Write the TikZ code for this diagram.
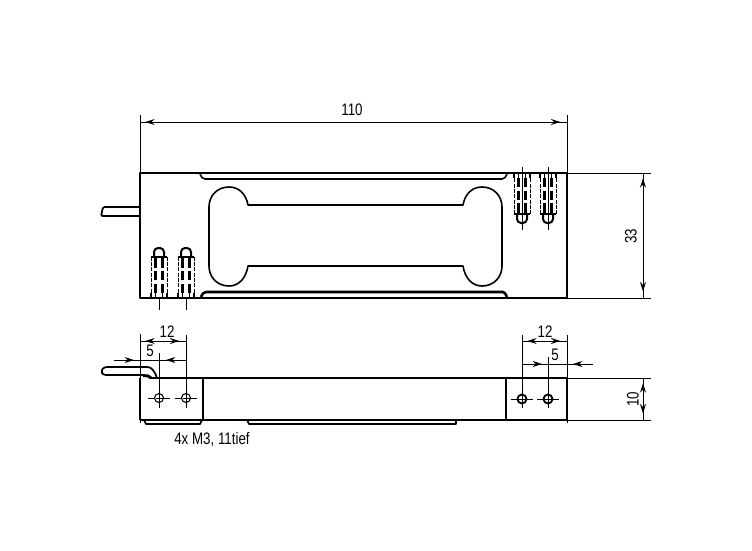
\documentclass[tikz,border=0pt]{standalone}
\usepackage{fontspec}
\setmainfont[FakeStretch=0.8]{Liberation Sans}
\usetikzlibrary{arrows.meta,decorations.markings}

\tikzset{
	body/.style={line width=1.9pt,line join=round},
	edge/.style={line width=1.2pt,line join=round},
	thin line/.style={line width=.55pt},
	dimin/.style={line width=.75pt,postaction={decorate},
		decoration={markings,
			mark=at position 11pt with {\arrow{Stealth[length=7pt,width=4.5pt,reversed]}},
			mark=at position -5pt with {\arrow{Stealth[length=7pt,width=4.5pt]}}}},
	dimout/.style={line width=.75pt,postaction={decorate},
		decoration={markings,
			mark=at position #1 with {\arrow{Stealth[length=7pt,width=4.5pt]}}}},
	dimlabel/.style={font=\fontsize{12.5}{14}\selectfont,inner sep=0pt},
	dash body/.style={line width=.6pt,dash pattern=on 3pt off 1pt},
	dash core/.style={line width=1.6pt,dash pattern=on 7pt off 2.5pt}
}

\newcommand{\threadstud}{
	\draw[dash body] (-8,0) -- (-8,-41) (8,0) -- (8,-41);
	\draw[dash core] (-3.5,-5) -- (-3.5,-41) (3.5,-5) -- (3.5,-41);
	\draw[edge] (-8,-41) -- (8,-41);
	\draw[edge,line width=1.5pt,rounded corners=3pt] (-5,-41) -- (-5,-50) -- (5,-50) -- (5,-41);
	\draw[line width=1.4pt] (-8,0) -- (-8,-5) (-3.5,0) -- (-3.5,-5) (3.5,0) -- (3.5,-5) (8,0) -- (8,-5);
}

\begin{document}
\begin{tikzpicture}[x=.75pt,y=-.75pt]
	\useasboundingbox (0,0) rectangle (752,550);

	% front view
	\draw[body] (140,173) rectangle (567,298);
	\draw[edge] (200,174) .. controls (202,178) .. (205,179) -- (502,179) .. controls (505,178) .. (507,174);
	\draw[body] (201,297) .. controls (203,293) .. (206,292) -- (503,292) .. controls (505,293) .. (507,297);
	\draw[edge] (248,205) -- (463,205) .. controls (465,194) and (472,187) .. (482,187)
		.. controls (494,187) and (502,196) .. (502,207) -- (502,266)
		.. controls (502,277) and (494,286) .. (482,286) .. controls (472,286) and (465,278) .. (463,266)
		-- (248,266) .. controls (246,278) and (239,286) .. (229,286)
		.. controls (217,286) and (209,277) .. (209,266) -- (209,207)
		.. controls (209,196) and (217,187) .. (229,187) .. controls (239,187) and (246,194) .. (248,205) -- cycle;
	\draw[edge,line width=1.3pt,rounded corners=1pt] (140,207) -- (103,207) -- (101,216) -- (140,216);
	\foreach \x in {159,186} {
		\begin{scope}[shift={(\x,298)}]
			\threadstud
		\end{scope}
	}
	\foreach \x in {522,548} {
		\begin{scope}[shift={(\x,173)},yscale=-1]
			\threadstud
		\end{scope}
		\draw[thin line] (\x,167) -- (\x,230);
	}

	% side view
	\draw[edge] (140,420) -- (567,420);
	\draw[edge] (150,378) -- (567,378);
	\draw[edge] (140,378) -- (140,420) (203,378) -- (203,420) (506,378) -- (506,420) (567,378) -- (567,420);
	\draw[edge] (144,420) -- (146,424) -- (200,424) -- (202,420);
	\draw[edge] (247,420) -- (249,424) -- (456,424) -- (456,420);
	\draw[edge,line width=1.3pt,rounded corners=2pt] (157,378) .. controls (155,371) and (151,367) .. (145,367) -- (104,367) -- (101,371) -- (103,375) -- (145,375);
	\draw[line width=2.2pt] (143,375.5) -- (148,376) -- (151,378);
	\foreach \x in {159,186} {
		\draw[thin line,line width=.8pt] (\x,398) circle[radius=4.5];
		\draw[thin line,dash pattern=on 5pt off 1pt] (\x-11,398) -- (\x+11,398);
	}
	\foreach \x in {522,548} {
		\draw[line width=1.4pt] (\x,399) circle[radius=4.5];
		\draw[thin line] (\x-11,399) -- (\x+11,399);
	}

	% dimensions
	\coordinate (a110) at (140,122);
	\coordinate (b110) at (567,122);
	\coordinate (a33) at (643,173);
	\coordinate (b33) at (643,298);
	\coordinate (a10) at (643,378);
	\coordinate (b10) at (643,420);
	\coordinate (a12l) at (140,341);
	\coordinate (b12l) at (186,341);
	\coordinate (a5l) at (114,360);
	\coordinate (b5l) at (186,360);
	\coordinate (a12r) at (522,341);
	\coordinate (b12r) at (567,341);
	\coordinate (a5r) at (522,364);
	\coordinate (b5r) at (593,364);

	\draw[dimin] (a110) -- (b110);
	\draw[dimin] (a33) -- (b33);
	\draw[dimin] (a10) -- (b10);
	\draw[dimin] (a12l) -- (b12l);
	\draw[dimin] (a12r) -- (b12r);
	\draw[dimout=15pt] (a5l) -- (b5l);
	\draw[dimout=15pt] (b5l) -- (a5l);
	\draw[dimout=15pt] (a5r) -- (b5r);
	\draw[dimout=15pt] (b5r) -- (a5r);

	\draw[thin line] (140,115) -- (140,173) (567,115) -- (567,173);
	\draw[thin line] (567,173) -- (651,173) (567,298) -- (651,298);
	\draw[thin line] (567,378) -- (651,378) (567,420) -- (651,420);
	\draw[thin line] (140,334) -- (140,378) (159,353) -- (159,408) (186,335) -- (186,408);
	\draw[thin line] (522,335) -- (522,408) (548,357) -- (548,408) (567,335) -- (567,378);
	\draw[thin line] (159,298) -- (159,310) (186,298) -- (186,310);
	\draw[thin line] (140,420) -- (140,423) (567,420) -- (567,423);

	\node[dimlabel] (l110) at (352,110) {110};
	\node[dimlabel,rotate=90] (l33) at (631,236) {33};
	\node[dimlabel,rotate=90] (l10) at (633,399) {10};
	\node[dimlabel] (l12l) at (167,332) {12};
	\node[dimlabel] (l5l) at (150,351) {5};
	\node[dimlabel] (l12r) at (545,332) {12};
	\node[dimlabel] (l5r) at (555,355) {5};
	\node[dimlabel] (lhole) at (212,440) {4x M3, 11tief};
\end{tikzpicture}
\end{document}
